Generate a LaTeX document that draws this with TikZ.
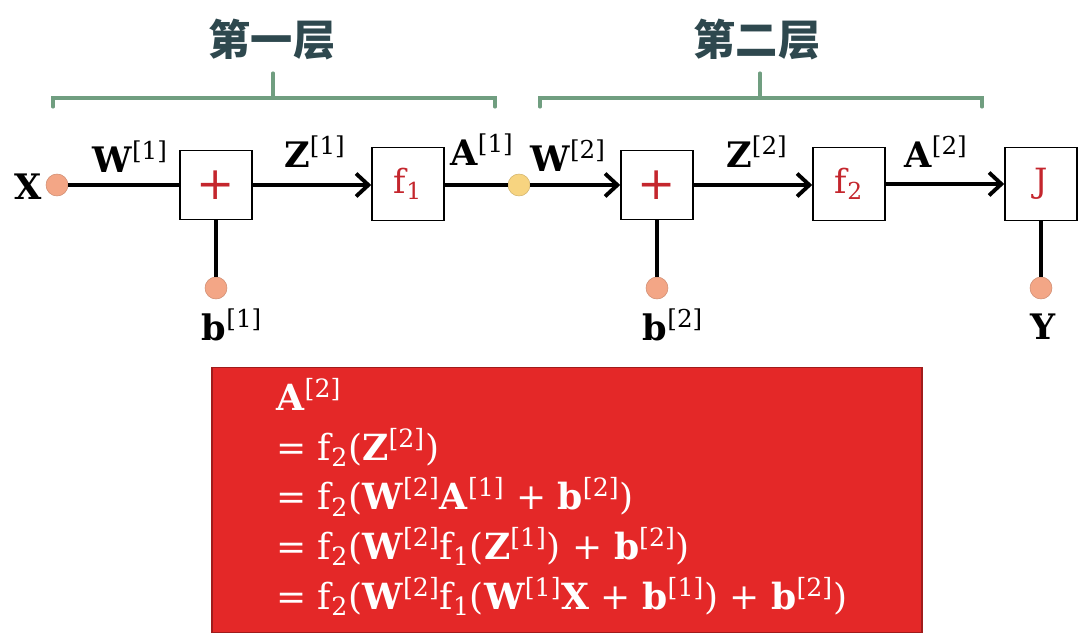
\RequirePackage{fix-cm}
\documentclass[tikz,border=0pt]{standalone}
\usepackage{fontspec}
\setmainfont{DejaVu Serif}
\newfontfamily\cjk{Noto Sans CJK SC}
\usetikzlibrary{arrows.meta}
\definecolor{dotsalmon}{RGB}{243,166,134}
\definecolor{dotyellow}{RGB}{247,212,128}
\definecolor{opred}{RGB}{196,38,45}
\definecolor{bracegreen}{RGB}{112,158,128}
\definecolor{titlegray}{RGB}{46,72,78}
\definecolor{boxred}{RGB}{228,40,40}
\newcommand{\layvar}[2]{\textbf{#1}\textsuperscript{[#2]}}
\newcommand{\fn}[1]{f\textsubscript{#1}}

\begin{document}
\begin{tikzpicture}[x=0.02cm, y=-0.02cm,
  opbox/.style={rectangle, draw, line width=0.9pt, minimum width=1.44cm, minimum height=1.38cm, text=opred, inner sep=0pt},
  fbox/.style={opbox, minimum height=1.46cm, font=\fontsize{19}{22}\selectfont},
  plusbox/.style={opbox, font=\fontsize{26}{30}\selectfont},
  dotnode/.style={circle, fill=dotsalmon, draw=dotsalmon!85!black, line width=0.3pt, minimum size=0.44cm, inner sep=0pt},
  lab/.style={font=\fontsize{20}{24}\selectfont, inner sep=0pt},
  title/.style={font=\cjk\bfseries\fontsize{24}{28}\selectfont, text=titlegray},
  brace/.style={draw=bracegreen, line width=1.8pt, line cap=round},
  wire/.style={line width=2.2pt},
  arrow/.style={-{Straight Barb[length=7pt,width=13pt]}, line width=2.2pt},
  eqbox/.style={rectangle, fill=boxred, draw=boxred!70!black, line width=1pt, minimum width=14.2cm, minimum height=5.3cm},
  eqtext/.style={text=white, align=left, inner sep=0pt, font=\fontsize{20.5}{28.3}\selectfont}
]
\useasboundingbox (0,0) rectangle (1080,642);

\node[title] (layer1) at (272,40) {第一层};
\node[title] (layer2) at (757,40) {第二层};
\draw[brace] (53,107) -- (53,98) -- (495,98) -- (495,107);
\draw[brace] (273,73) -- (273,98);
\draw[brace] (540,107) -- (540,98) -- (982,98) -- (982,107);
\draw[brace] (760,73) -- (760,98);

\node[dotnode] (xdot) at (57,185) {};
\node[plusbox] (plus1) at (216,185) {+};
\node[fbox] (f1) at (408,184) {\fn{1}};
\node[dotnode, fill=dotyellow, draw=dotyellow!85!black] (a1dot) at (519,185) {};
\node[plusbox] (plus2) at (657,185) {+};
\node[fbox] (f2) at (849,184) {\fn{2}};
\node[fbox] (jbox) at (1041,184) {J};
\node[dotnode] (b1dot) at (216,288) {};
\node[dotnode] (b2dot) at (657,288) {};
\node[dotnode] (ydot) at (1041,288) {};

\node[lab] (xlab) at (28,187) {\textbf{X}};
\node[lab] (w1lab) at (130,157) {\layvar{W}{1}};
\node[lab] (z1lab) at (315,152) {\layvar{Z}{1}};
\node[lab] (a1lab) at (482,150) {\layvar{A}{1}};
\node[lab] (w2lab) at (568,156) {\layvar{W}{2}};
\node[lab] (z2lab) at (757,152) {\layvar{Z}{2}};
\node[lab] (a2lab) at (936,152) {\layvar{A}{2}};
\node[lab] (b1lab) at (232,325) {\layvar{b}{1}};
\node[lab] (b2lab) at (673,325) {\layvar{b}{2}};
\node[lab] (ylab) at (1043,327) {\textbf{Y}};

\draw[wire] (xdot) -- (plus1);
\draw[arrow] (plus1) -- (plus1.east -| f1.west);
\draw[wire] (f1.east |- a1dot) -- (a1dot);
\draw[arrow] (a1dot) -- (plus2);
\draw[arrow] (plus2) -- (plus2.east -| f2.west);
\draw[arrow] (f2) -- (jbox);
\draw[wire] (plus1) -- (b1dot);
\draw[wire] (plus2) -- (b2dot);
\draw[wire] (jbox) -- (ydot);

\node[eqbox] (eqbox) at (567,500) {};
\node[eqtext, anchor=west] (eqtext) at (276,497) {%
\layvar{A}{2}\\
= \fn{2}(\layvar{Z}{2})\\
= \fn{2}(\layvar{W}{2}\layvar{A}{1} + \layvar{b}{2})\\
= \fn{2}(\layvar{W}{2}\fn{1}(\layvar{Z}{1}) + \layvar{b}{2})\\
= \fn{2}(\layvar{W}{2}\fn{1}(\layvar{W}{1}\textbf{X} + \layvar{b}{1}) + \layvar{b}{2})};
\end{tikzpicture}
\end{document}
